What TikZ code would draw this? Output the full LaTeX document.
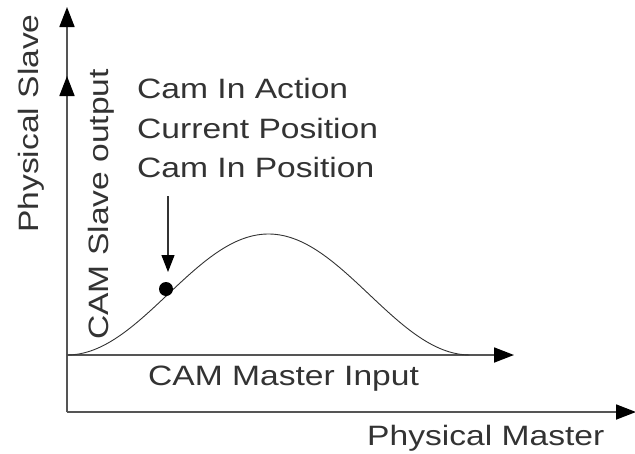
\documentclass[tikz,border=0pt]{standalone}
\usepackage{fontspec}
\setmainfont{Liberation Sans}[FakeStretch=1.2]
\usetikzlibrary{arrows.meta}
\definecolor{ink}{HTML}{333333}
\definecolor{axisc}{HTML}{555555}
\tikzset{
  axisline/.style={draw=axisc, line width=1.8pt, -{Triangle[length=20pt,width=15pt,fill=black,color=black]}},
  lbl/.style={inner sep=0pt, text=ink, font=\fontsize{28}{34}\selectfont, anchor=base west},
  camcurve/.style={draw=ink, line width=0.9pt},
  pointer/.style={draw=ink, line width=1.1pt, -{Triangle[length=17pt,width=13pt,fill=black,color=black]}}
}
\begin{document}
\begin{tikzpicture}[x=1pt,y=-1pt]
\useasboundingbox (0,0) rectangle (635,453);
% axes
\coordinate (O) at (67,412);
\coordinate (Otop) at (67,7);
\coordinate (Oright) at (636,412);
\coordinate (I) at (67,355);
\coordinate (Itop) at (67,76);
\coordinate (Iright) at (514,355);
\draw[axisline] (O) -- (Otop);
\draw[axisline] (O) -- (Oright);
\draw[axisline] (O) -- (Itop);
\draw[axisline] (I) -- (Iright);
% cam curve
\draw[camcurve] plot[domain=0:1, samples=120] ({67+403*\x}, {355-60.5*(1-cos(360*\x))});
% current position dot
\node[circle, fill=black, inner sep=0pt, minimum size=14pt] (dot) at (166,289) {};
\coordinate (ptop) at (168,196);
\draw[pointer] (ptop) -- (168,272);
% labels
\node[lbl] (l1) at (137,98) {Cam In Action};
\node[lbl] (l2) at (137,138) {Current Position};
\node[lbl] (l3) at (137,177) {Cam In Position};
\node[lbl] (mi) at (148,385) {CAM Master Input};
\node[lbl] (pm) at (367,445) {Physical Master};
\node[lbl, rotate=90] (ps) at (38,233) {Physical Slave};
\node[lbl, rotate=90] (so) at (108,340) {CAM Slave output};
\end{tikzpicture}
\end{document}
